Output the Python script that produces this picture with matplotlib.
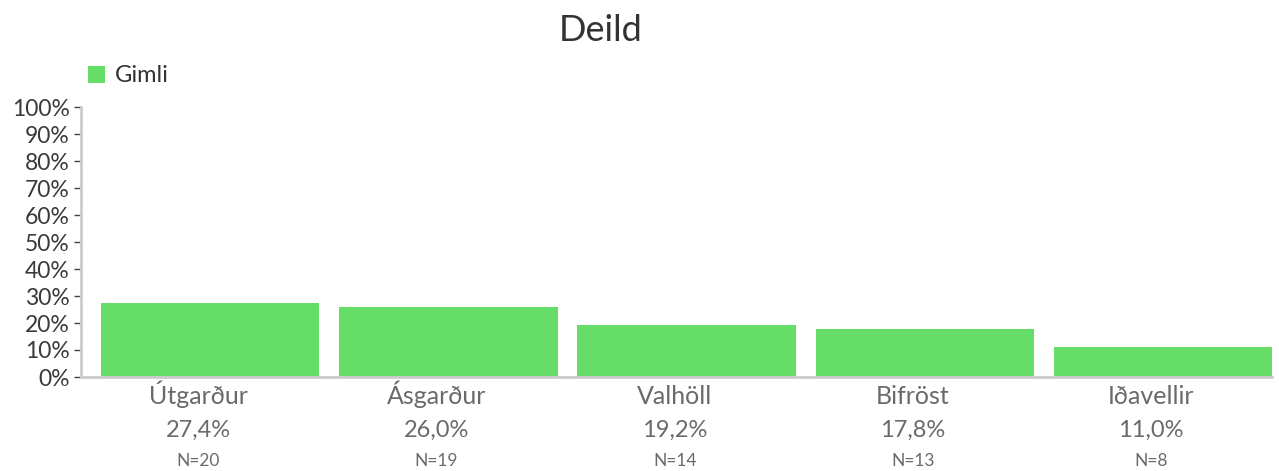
import matplotlib
matplotlib.use("Agg")
import matplotlib.pyplot as plt
import matplotlib.transforms as mtransforms
from matplotlib.patches import Patch
import numpy as np

plt.rcParams['font.family'] = ['Lato', 'DejaVu Sans']

categories = ["Útgarður", "Ásgarður", "Valhöll", "Bifröst", "Iðavellir"]
values = [27.4, 26.0, 19.2, 17.8, 11.0]
counts = [20, 19, 14, 13, 8]
yticks = [0, 10, 20, 30, 40, 50, 60, 70, 80, 90, 100]
series_name = "Gimli"
title = "Deild"

green = "#66DD66"
fig = plt.figure(figsize=(12.79, 4.71), dpi=100)
W, H = 1279, 471
ax = fig.add_axes([81 / W, 1 - 377 / H, (1272 - 81) / W, (377 - 107) / H])

x = np.arange(len(categories))
ax.bar(x, values, width=0.917, color=green, edgecolor="none", label=series_name)
ax.set_xlim(-0.543, len(categories) - 1 + 0.4585)
ax.set_ylim(0, 100)

ax.set_yticks(yticks)
ax.set_yticklabels([f"{t}%" for t in yticks], fontsize=16.5, color="#3a3a3a")
ax.tick_params(axis='y', length=5, width=1, color="#444444", pad=3)
ax.set_xticks([])

for s in ["top", "right"]:
    ax.spines[s].set_visible(False)
for s in ["left", "bottom"]:
    ax.spines[s].set_color("#cccccc")
    ax.spines[s].set_linewidth(2)

trans = mtransforms.blended_transform_factory(ax.transData, fig.transFigure)
label_shift = -0.05
for xi, c, v, n in zip(x, categories, values, counts):
    lx = xi + label_shift
    ax.text(lx, 1 - 404 / H, c, transform=trans,
            ha="center", va="baseline", fontsize=18, color="#6a6a6a")
    ax.text(lx, 1 - 437 / H, f"{v:.1f}%".replace(".", ","), transform=trans,
            ha="center", va="baseline", fontsize=17, color="#6a6a6a")
    ax.text(lx, 1 - 466 / H, f"N={n}", transform=trans,
            ha="center", va="baseline", fontsize=12.5, color="#6a6a6a")

fig.text(601 / W, 1 - 41 / H, title, ha="center", va="baseline", fontsize=26, color="#333333")

handles = [Patch(facecolor=green, edgecolor="none", label=series_name)]
fig.legend(handles=handles, loc="center left", bbox_to_anchor=(88 / W, 1 - 76 / H),
           frameon=False, fontsize=17, handlelength=0.72, handleheight=0.72,
           handletextpad=0.42, borderpad=0, borderaxespad=0, labelcolor="#333333")

fig.savefig("out.png", dpi=100)
